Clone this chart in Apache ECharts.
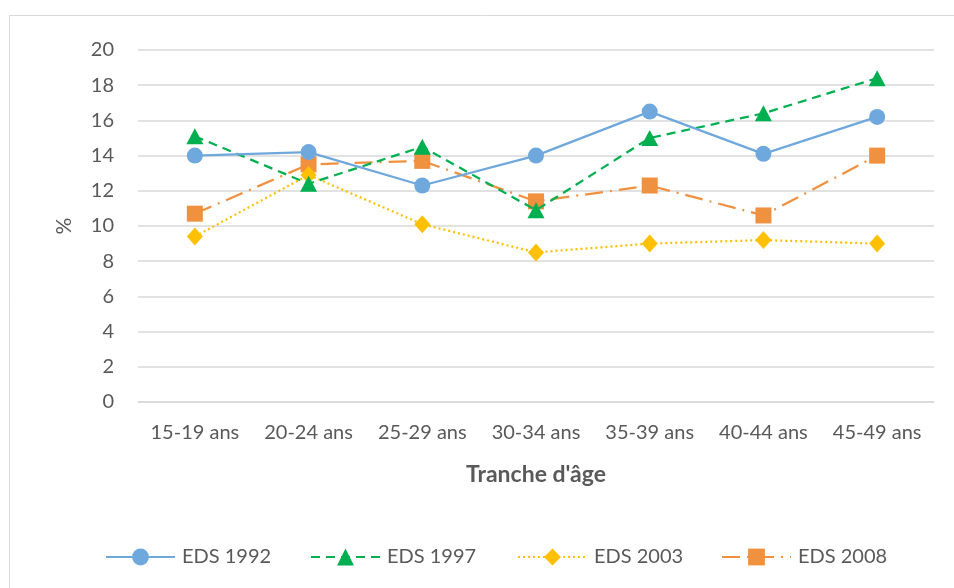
<!DOCTYPE html>
<html><head><meta charset="utf-8">
<script src="https://cdn.jsdelivr.net/npm/echarts@6/dist/echarts.min.js"></script>
<style>html,body{margin:0;padding:0;background:#fff}#c{width:954px;height:588px}</style>
</head><body><div id="c"></div>
<script>
const categories = ['15-19 ans','20-24 ans','25-29 ans','30-34 ans','35-39 ans','40-44 ans','45-49 ans'];
const eds1992 = [14.0, 14.2, 12.3, 14.0, 16.5, 14.1, 16.2];
const eds1997 = [15.1, 12.4, 14.5, 10.9, 15.0, 16.4, 18.4];
const eds2003 = [9.4, 12.9, 10.1, 8.5, 9.0, 9.2, 9.0];
const eds2008 = [10.7, 13.5, 13.7, 11.4, 12.3, 10.6, 14.0];
const yTicks = {min: 0, max: 20, interval: 2};

const font = 'Lato, "Open Sans", sans-serif';
const txt = '#595959';
const chart = echarts.init(document.getElementById('c'), null, {renderer: 'canvas'});
function legendAt(name, left) {
  return {data: [name], left: left, top: 542, itemWidth: 69, itemHeight: 21, itemGap: 0,
    textStyle: {fontFamily: font, fontSize: 20, color: txt, padding: [0, 0, 0, 2]}, selectedMode: false};
}
chart.setOption({
  animation: false,
  graphic: [{type: 'rect', shape: {x: 9.5, y: 15.5, width: 960, height: 600},
    style: {fill: 'none', stroke: '#D9D9D9', lineWidth: 1}, silent: true}],
  grid: {left: 138, right: 20, top: 50, bottom: 186},
  legend: [legendAt('EDS 1992', 100), legendAt('EDS 1997', 305), legendAt('EDS 2003', 512), legendAt('EDS 2008', 716)],
  xAxis: {type: 'category', data: categories, boundaryGap: true,
    axisLine: {show: true, lineStyle: {color: '#D9D9D9', width: 1.5}}, axisTick: {show: false},
    axisLabel: {fontFamily: font, fontSize: 20, color: txt, margin: 21, interval: 0},
    name: "Tranche d'âge", nameLocation: 'middle', nameGap: 61,
    nameTextStyle: {fontFamily: font, fontSize: 23, fontWeight: 'bold', color: txt}},
  yAxis: {type: 'value', min: yTicks.min, max: yTicks.max, interval: yTicks.interval,
    axisLine: {show: false}, axisTick: {show: false},
    splitLine: {lineStyle: {color: '#D9D9D9', width: 1.5}},
    axisLabel: {fontFamily: font, fontSize: 20, color: txt, margin: 24},
    name: '%', nameLocation: 'middle', nameGap: 63, nameRotate: 90,
    nameTextStyle: {fontFamily: font, fontSize: 21, color: txt}},
  series: [
    {name: 'EDS 2008', type: 'line', data: eds2008, z: 2, symbol: 'rect', symbolSize: 16,
      itemStyle: {color: '#F0913F'}, lineStyle: {color: '#F0913F', width: 2.25, type: [18, 7, 2, 7]}},
    {name: 'EDS 2003', type: 'line', data: eds2003, z: 3, symbol: 'diamond', symbolSize: [16, 18],
      itemStyle: {color: '#FFC000'}, lineStyle: {color: '#FFC000', width: 2.25, type: [2, 3]}},
    {name: 'EDS 1997', type: 'line', data: eds1997, z: 4, symbol: 'triangle', symbolSize: [17, 16],
      itemStyle: {color: '#00B050'}, lineStyle: {color: '#00B050', width: 2.25, type: [9, 6]}},
    {name: 'EDS 1992', type: 'line', data: eds1992, z: 5, symbol: 'circle', symbolSize: 16,
      itemStyle: {color: '#6FA8DC'}, lineStyle: {color: '#6FA8DC', width: 2.25, type: 'solid'}}
  ]
});
</script></body></html>
